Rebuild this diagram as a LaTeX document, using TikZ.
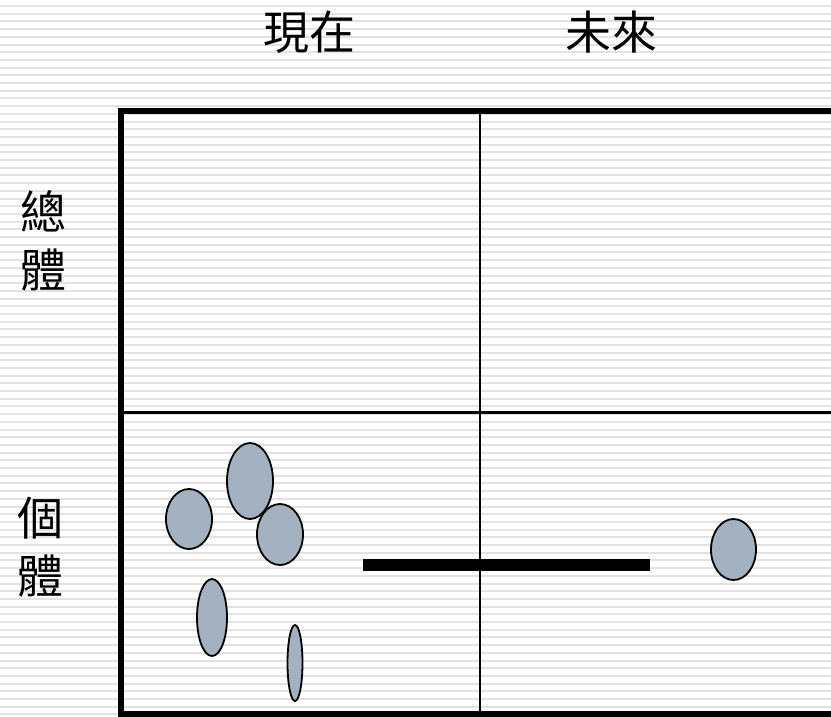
\documentclass[tikz,border=0pt]{standalone}
\usepackage{fontspec}
\newfontfamily\cjk{Noto Sans CJK TC}
\usetikzlibrary{shapes.geometric}
\definecolor{stripegrey}{HTML}{E2E2E2}
\definecolor{blobfill}{HTML}{A3B1C0}
\tikzset{
  blob/.style={ellipse, draw=black, line width=1.8pt, fill=blobfill, inner sep=0pt},
  label/.style={font=\cjk\fontsize{46}{58}\selectfont, inner sep=0pt, align=center},
  frameline/.style={line width=6pt},
  thinline/.style={line width=2.5pt},
  barline/.style={line width=12pt}
}
\begin{document}
\begin{tikzpicture}[x=1pt,y=-1pt]
\useasboundingbox (0,0) rectangle (831,716);
\fill[white] (0,0) rectangle (831,716);
\foreach \i in {0,...,92} {
  \fill[stripegrey] (0,{6+7.7*\i-1}) rectangle (831,{6+7.7*\i+1});
}
\begin{scope}
\clip (0,0) rectangle (831,716);
\draw[frameline] (121,111) rectangle (850,714);
\coordinate (vtop) at (480,111);
\coordinate (vbot) at (480,714);
\coordinate (hleft) at (121,412.5);
\coordinate (hright) at (850,412.5);
\draw[thinline] (vtop) -- (vbot);
\draw[thinline] (hleft) -- (hright);
\end{scope}
\coordinate (barL) at (363,564.5);
\coordinate (barR) at (650,564.5);
\draw[barline] (barL) -- (barR);
\node[blob, minimum width=46, minimum height=60] (e1) at (189,519) {};
\node[blob, minimum width=46, minimum height=76] (e2) at (250,481) {};
\node[blob, minimum width=46, minimum height=61] (e3) at (280,534.5) {};
\node[blob, minimum width=30, minimum height=77] (e4) at (212,617.5) {};
\node[blob, minimum width=15, minimum height=76] (e5) at (295,663) {};
\node[blob, minimum width=45, minimum height=61] (e6) at (733.5,549.5) {};
\node[label] (now) at (309.5,32) {現在};
\node[label] (future) at (611,32) {未來};
\node[label] (whole) at (43,241) {總\\體};
\node[label] (indiv) at (40,547) {個\\體};
\end{tikzpicture}
\end{document}
